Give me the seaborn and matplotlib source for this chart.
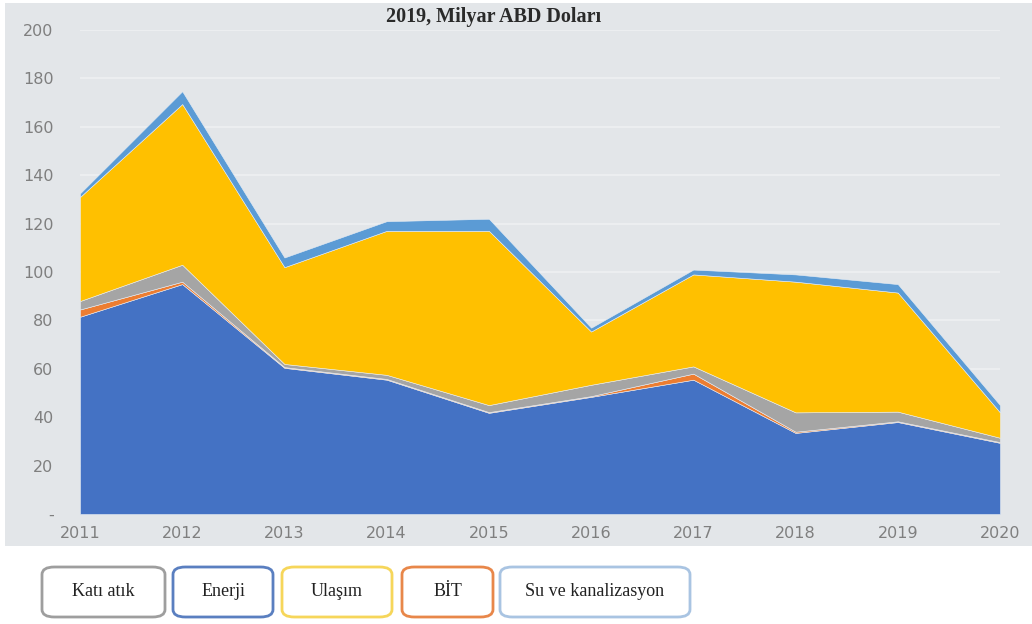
import matplotlib
matplotlib.use("Agg")
import matplotlib.pyplot as plt
from matplotlib.patches import Rectangle, FancyBboxPatch
import seaborn as sns

# Infrastructure investment by sector, billion USD (2019 prices)
years = [2011, 2012, 2013, 2014, 2015, 2016, 2017, 2018, 2019, 2020]
enerji = [81.5, 95.0, 60.4, 55.5, 41.8, 48.4, 55.5, 33.5, 38.0, 29.4]
bit = [3.0, 1.0, 0.3, 0.3, 0.3, 0.3, 2.5, 0.5, 0.3, 0.3]
kati_atik = [3.5, 7.0, 1.3, 1.7, 2.9, 4.7, 3.0, 8.0, 4.0, 1.8]
ulasim = [43.0, 66.4, 40.0, 59.5, 72.0, 22.0, 38.0, 54.0, 49.2, 10.5]
su_kanalizasyon = [1.5, 5.3, 4.0, 4.0, 5.0, 1.6, 2.0, 3.0, 3.5, 3.0]

stack_names = ["Enerji", "BİT", "Katı atık", "Ulaşım", "Su ve kanalizasyon"]
stack_values = [enerji, bit, kati_atik, ulasim, su_kanalizasyon]
stack_colors = ["#4472C4", "#ED7D31", "#A5A5A5", "#FFC000", "#5B9BD5"]

legend_names = ["Katı atık", "Enerji", "Ulaşım", "BİT", "Su ve kanalizasyon"]
legend_colors = ["#9E9E9E", "#5A7FC0", "#F6D65A", "#E8874A", "#A9C4E2"]

y_ticks = [0, 20, 40, 60, 80, 100, 120, 140, 160, 180, 200]
y_ticklabels = ["-", "20", "40", "60", "80", "100", "120", "140", "160", "180", "200"]
title = "2019, Milyar ABD Doları"

bg = "#E3E6E9"
sns.set_theme(style="white")
plt.rcParams["font.family"] = ["DejaVu Sans"]

W, H = 1032, 624
fig = plt.figure(figsize=(W / 100, H / 100), dpi=100)
fig.patch.set_facecolor("white")

# grey panel behind the chart
panel = Rectangle((5 / W, 1 - 546 / H), 1 - 5 / W, 546 / H - 3 / H,
                  transform=fig.transFigure, facecolor=bg,
                  edgecolor="none", zorder=-5)
fig.patches.append(panel)

ax = fig.add_axes([80 / W, 1 - 514 / H, 920 / W, 484 / H])
ax.set_zorder(2)
ax.set_facecolor(bg)
ax.patch.set_alpha(0)

palette = sns.color_palette(stack_colors)
ax.stackplot(years, *stack_values, colors=palette, labels=stack_names,
             edgecolor="#E9EEF4", linewidth=0.4, zorder=2)

ax.set_xlim(2011, 2020)
ax.set_ylim(0, 200)
ax.set_yticks(y_ticks)
ax.set_yticklabels(y_ticklabels)
ax.set_xticks(years)
ax.set_xticklabels([str(y) for y in years])
for t in ax.get_xticklabels() + ax.get_yticklabels():
    t.set_color("#7F7F7F")
    t.set_fontsize(11.5)
ax.tick_params(axis="x", length=0, pad=9)
ax.tick_params(axis="y", length=0, pad=19)

ax.yaxis.grid(True, color="#ECEEF0", linewidth=1.5, zorder=0)
ax.set_axisbelow(True)
for s in ax.spines.values():
    s.set_visible(False)

fig.text(494 / W, 1 - 17 / H, title, ha="center", va="center",
         family="Liberation Serif", fontsize=14.5, fontweight="bold",
         color="#2A2A2A", zorder=5)

# legend boxes
box_x = [(42, 165), (173, 273), (282, 392), (402, 493), (500, 690)]
for (x0, x1), name, col in zip(box_x, legend_names, legend_colors):
    y0, y1 = 567, 617
    fig.patches.append(FancyBboxPatch((x0 / W, 1 - y1 / H), (x1 - x0) / W, (y1 - y0) / H,
                                      boxstyle="round,pad=0,rounding_size=0.012",
                                      transform=fig.transFigure, facecolor="white",
                                      edgecolor=col, linewidth=2, zorder=3))
    fig.text((x0 + x1) / 2 / W, 1 - 592 / H, name, ha="center", va="center",
             family="Liberation Serif", fontsize=13, color="#222222", zorder=4)

fig.savefig("out.png", dpi=100, facecolor="white")
